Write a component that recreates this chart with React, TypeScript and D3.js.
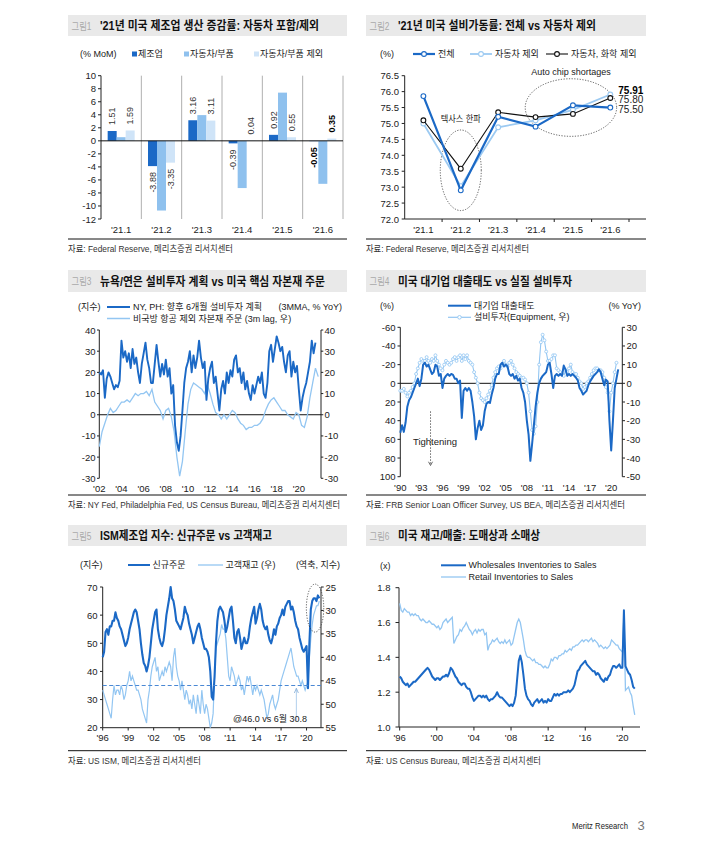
import React from 'react';
import * as d3 from 'd3';

const FONT = "'Liberation Sans', 'Noto Sans CJK KR', Arial, sans-serif";
const DARK = '#1b69c6';
const MID = '#8fc1ee';
const PALE = '#cfe4f8';
const LINE_LIGHT = '#93c6f2';

// ---------- Panel 1 ----------
const p1Categories = ["'21.1", "'21.2", "'21.3", "'21.4", "'21.5", "'21.6"];
const p1Mfg = [1.51, -3.88, 3.16, -0.39, 0.92, -0.05];
const p1Auto = [0.56, -10.7, 3.95, -7.25, 7.4, -6.6];
const p1ExAuto = [1.59, -3.35, 3.11, 0.04, 0.55, 0.35];
const p1Ticks = [10, 8, 6, 4, 2, 0, -2, -4, -6, -8, -10, -12];

// ---------- Panel 2 ----------
const p2Categories = ["'21.1", "'21.2", "'21.3", "'21.4", "'21.5", "'21.6"];
const p2Total = [75.86, 72.9, 75.21, 74.9, 75.57, 75.5];
const p2ExAuto = [75.0, 73.03, 74.88, 75.1, 75.43, 75.91];
const p2ExAutoChem = [75.1, 73.58, 75.35, 75.2, 75.3, 75.8];
const p2Ticks = [72.0, 72.5, 73.0, 73.5, 74.0, 74.5, 75.0, 75.5, 76.0, 76.5];

// ---------- Panel 3 (2002~, NY/PH bi-monthly; core capex quarterly) ----------
const p3NyPh = [
  20, 19, 21, 8, 17, 20,
  18, 15, 12, 14, 13, 16,
  35, 27, 30, 25, 29, 22,
  31, 24, 27, 20, 15, 24,
  29, 34, 26, 22, 15, 15,
  24, 33, 25, 18, 24, 19,
  26, 18, 22, 10, 14, -5,
  -13, -17, -10, 2, 15, 22,
  25, 30, 20, 28, 22, 27,
  35, 27, 22, 25, 7, 17,
  22, 25, 15, 18, 10, 2,
  12, 16, 10, 20, 15, 21,
  18, 26, 28, 20, 22, 15,
  20, 12, 16, 10, 7, 14,
  10, 14, 18, 15, 20, 10,
  8, 15, 30, 33, 25, 31,
  37, 34, 30, 32, 25, 20,
  28, 30, 18, 25, 20, 23,
  12, 2, 8, 12, 15, 20,
  25, 35, 29, 34,
];
const p3Capex = [
  -15, -8, -4, 0,
  3, 1, 2, 4,
  6, 6, 7, 6,
  8, 10, 9, 10,
  10, 11, 9, 12,
  6, 4, 2, -2,
  2, 3, -1, -8,
  -20, -29, -22, -8,
  5, 12, 15, 14,
  13, 12, 10, 14,
  10, 5, 1, 0,
  -2, 0, -2, 0,
  2, 1, -2, -4,
  -5, -7, -6, -6,
  -5, -5, -4, -2,
  2, 5, 7, 8,
  6, 4, 2, 2,
  0, -1, -2, 1,
  0, -5, -6, -1,
  8, 15, 22, 18,
];
const p3Ticks = [40, 30, 20, 10, 0, -10, -20, -30];
const p3Years = ["'02", "'04", "'06", "'08", "'10", "'12", "'14", "'16", "'18", "'20"];

// ---------- Panel 4 (1990~, quarterly) ----------
const p4Lending = [
  53, 45, 52, 42,
  25, 18, 15, 10,
  5, 0, -5, 3,
  -5, -20, -22, -18,
  -20, -15, -10, -12,
  -20, -18, -8, -10,
  5, -5, -8, -10,
  -8, -10, -9, -5,
  -5, 0, -3, 37,
  8, 5, 8, 5,
  8, 20, 35, 60,
  48, 40, 50, 45,
  30, 22, 20, 21,
  12, 5, -5, -10,
  -10, -20, -22, -18,
  -20, -18, -10, -8,
  -10, -5, -8, -3,
  -5, 5, 10, 20,
  40, 55, 83, 65,
  45, 25, 10, 0,
  -5, -8, -10, -12,
  -20, -22, -10, 5,
  -8, -10, -8, -10,
  -8, -19, -15, -8,
  -10, -8, -10, -8,
  -6, -3, 5, 8,
  12, 10, 8, 2,
  -2, -5, -8, -10,
  -12, -15, -12, -5,
  2, -4, -2, 40,
  72, 40, 5, -5,
  -15,
];
const p4Equip = [
  -4, -4, -3, -5,
  -7, -5, -4, -2,
  0, 5, 8, 11,
  13, 12, 12, 14,
  12, 11, 13, 12,
  15, 12, 10, 8,
  7, 10, 12, 11,
  10, 11, 13, 14,
  12, 14, 15, 12,
  15, 13, 15, 12,
  11, 10, 6, 3,
  0, -5, -8, -9,
  -10, -8, -6, -4,
  -1, 3, 6, 8,
  9, 8, 10, 12,
  10, 9, 11, 12,
  10, 8, 6, 5,
  4, 3, 3, 2,
  0, -5, -15, -25,
  -27, -23, -10, 10,
  22, 26, 23, 17,
  12, 12, 13, 15,
  15, 8, 7, 6,
  5, 4, 7, 6,
  8, 10, 6, 5,
  5, 3, 1, 0,
  -3, -2, 0, 1,
  3, 5, 7, 8,
  8, 7, 7, 6,
  3, -2, -5, -15,
  -5, 0, 6, 11,
];
const p4LeftTicks = [-60, -40, -20, 0, 20, 40, 60, 80, 100];
const p4RightTicks = [30, 20, 10, 0, -10, -20, -30, -40, -50];
const p4Years = ["'90", "'93", "'96", "'99", "'02", "'05", "'08", "'11", "'14", "'17", "'20"];

// ---------- Panel 5 (1996~, bi-monthly) ----------
const p5NewOrders = [
  45, 47, 54, 55, 53, 56,
  56, 58, 58, 61, 59, 58,
  56, 55, 53, 51, 49, 50,
  52, 55, 57, 59, 61, 62,
  61, 58, 55, 50, 46, 43,
  42, 40, 42, 45, 50, 55,
  58, 61, 62, 55, 52, 50,
  49, 51, 55, 60, 63, 66,
  70, 66, 65, 62, 58, 57,
  56, 55, 57, 59, 63, 61,
  60, 57, 55, 53, 50, 52,
  54, 56, 57, 55, 52, 50,
  48, 48, 47, 45, 40, 31,
  30, 38, 50, 58, 62, 63,
  62, 61, 58, 54, 56, 59,
  62, 63, 58, 52, 50, 54,
  55, 52, 48, 50, 52, 50,
  50, 52, 56, 59, 61, 63,
  57, 59, 62, 64, 62, 58,
  56, 55, 56, 53, 51, 50,
  52, 55, 53, 56, 57, 59,
  60, 62, 60, 63, 64, 65,
  65, 62, 63, 61, 58, 56,
  55, 52, 50, 48, 47, 48,
  49, 34, 50, 62, 65, 66,
  66, 65, 67, 66,
];
const p5CustInv = [
  47, 48, 49, 50, 51, 52,
  53, 49, 46, 48, 47, 47,
  48, 46, 47, 49, 48, 46,
  45, 43, 45, 44, 45, 46,
  47, 47, 48, 49, 51, 52,
  53, 54, 49, 47, 44, 42,
  41, 40, 43, 42, 45, 44,
  43, 44, 42, 43, 42, 41,
  42, 45, 40, 38, 42, 44,
  45, 47, 45, 47, 49, 47,
  48, 50, 49, 51, 48, 50,
  52, 48, 50, 52, 47, 50,
  52, 50, 51, 53, 55, 54,
  52, 44, 38, 37, 36, 35,
  33, 34, 34, 36, 40, 44,
  45, 42, 43, 44, 46, 45,
  44, 45, 47, 46, 48, 46,
  44, 45, 44, 46, 48, 46,
  47, 46, 47, 48, 47, 48,
  49, 51, 53, 52, 50, 49,
  48, 50, 51, 50, 49, 47,
  45, 44, 43, 42, 41, 40,
  39, 38, 40, 42, 43, 44,
  44, 45, 46, 45, 46, 47,
  46, 45, 40, 36, 33, 31,
  30, 29, 29, 28,
];
const p5LeftTicks = [70, 60, 50, 40, 30, 20];
const p5RightTicks = [25, 30, 35, 40, 45, 50, 55];
const p5Years = ["'96", "'99", "'02", "'05", "'08", "'11", "'14", "'17", "'20"];

// ---------- Panel 6 (1996~, bi-monthly) ----------
const p6Wholesale = [
  1.29, 1.28, 1.26, 1.25, 1.24, 1.25,
  1.23, 1.24, 1.25, 1.26, 1.26, 1.27,
  1.28, 1.29, 1.30, 1.31, 1.32, 1.33,
  1.34, 1.33, 1.31, 1.29, 1.28, 1.27,
  1.28, 1.28, 1.27, 1.28, 1.29, 1.29,
  1.30, 1.29, 1.31, 1.34, 1.33, 1.31,
  1.29, 1.28, 1.26, 1.25, 1.24, 1.25,
  1.25, 1.23, 1.22, 1.22, 1.20, 1.17,
  1.15, 1.16, 1.17, 1.18, 1.18, 1.17,
  1.18, 1.17, 1.18, 1.16, 1.15, 1.16,
  1.16, 1.17, 1.18, 1.20, 1.18, 1.17,
  1.17, 1.16, 1.15, 1.14, 1.13, 1.12,
  1.13, 1.12, 1.14, 1.18, 1.28, 1.38,
  1.41, 1.37, 1.30, 1.22, 1.18, 1.16,
  1.15, 1.13, 1.12, 1.14, 1.15, 1.16,
  1.14, 1.15, 1.16, 1.14, 1.15, 1.14,
  1.16, 1.15, 1.15, 1.17, 1.19, 1.18,
  1.19, 1.18, 1.19, 1.19, 1.20, 1.20,
  1.20, 1.21, 1.20, 1.21, 1.22, 1.24,
  1.28, 1.32, 1.33, 1.35, 1.36, 1.37,
  1.38, 1.36, 1.35, 1.34, 1.33, 1.32,
  1.32, 1.30, 1.31, 1.30, 1.28, 1.27,
  1.26, 1.28, 1.27, 1.29, 1.30, 1.33,
  1.35, 1.35, 1.34, 1.35, 1.36, 1.34,
  1.34, 1.67, 1.35, 1.33, 1.31, 1.30,
  1.27, 1.23, 1.22,
];
const p6Retail = [
  1.71, 1.67, 1.66, 1.68, 1.67, 1.66,
  1.66, 1.64, 1.65, 1.64, 1.65, 1.64,
  1.64, 1.62, 1.61, 1.62, 1.61, 1.60,
  1.60, 1.61, 1.60, 1.59, 1.59, 1.58,
  1.57, 1.58, 1.56, 1.57, 1.60, 1.61,
  1.62, 1.60, 1.61, 1.62, 1.63, 1.48,
  1.50, 1.52, 1.53, 1.56, 1.55, 1.57,
  1.58, 1.60, 1.58, 1.56, 1.55, 1.53,
  1.55, 1.56, 1.54, 1.56, 1.55, 1.56,
  1.56, 1.53, 1.54, 1.44, 1.47, 1.48,
  1.50, 1.49, 1.50, 1.51, 1.49, 1.48,
  1.49, 1.48, 1.50, 1.48, 1.49, 1.50,
  1.47, 1.48, 1.52, 1.56, 1.60, 1.62,
  1.60, 1.55, 1.50, 1.44, 1.41, 1.40,
  1.40, 1.39, 1.38, 1.39, 1.37, 1.37,
  1.36, 1.36, 1.35, 1.34, 1.35, 1.34,
  1.34, 1.36, 1.39, 1.38, 1.40, 1.40,
  1.39, 1.41, 1.41, 1.42, 1.42, 1.44,
  1.43, 1.44, 1.45, 1.44, 1.46, 1.46,
  1.47, 1.47, 1.48, 1.49, 1.50, 1.49,
  1.50, 1.50, 1.49, 1.50, 1.51, 1.49,
  1.50, 1.49, 1.48, 1.46, 1.47, 1.46,
  1.45, 1.46, 1.45, 1.46, 1.47, 1.50,
  1.49, 1.48, 1.47, 1.47, 1.45, 1.44,
  1.43, 1.64, 1.21, 1.22, 1.23, 1.20,
  1.18, 1.12, 1.07,
];
const p6Ticks = [1.8, 1.6, 1.4, 1.2, 1.0];
const p6Years = ["'96", "'00", "'04", "'08", "'12", "'16", "'20"];

const yearOf = (lbl: string) => {
  const n = +lbl.replace("'", '');
  return n >= 50 ? 1900 + n : 2000 + n;
};

function TitleBar({ x, y, w, h, num, title, tw }: any) {
  return (
    <g>
      <rect x={x} y={y} width={w} height={h} fill="#e9e9e9" />
      <text x={x + 3.5} y={y + h / 2 + 0.5} dominantBaseline="central" fontSize={10} fill="#a9a9a9" fontFamily={FONT} textLength={20} lengthAdjust="spacingAndGlyphs">{num}</text>
      <text x={x + 32} y={y + h / 2 + 0.5} dominantBaseline="central" fontSize={12} fontWeight="bold" fill="#111" fontFamily={FONT} textLength={tw} lengthAdjust="spacingAndGlyphs">{title}</text>
    </g>
  );
}

function Source({ x, y, w, text, tw }: any) {
  return (
    <g>
      <line x1={x} x2={x + w} y1={y} y2={y} stroke="#111" strokeWidth={1} />
      <text x={x} y={y + 10} dominantBaseline="central" fontSize={9.3} fill="#333" fontFamily={FONT} textLength={tw} lengthAdjust="spacingAndGlyphs">{text}</text>
    </g>
  );
}

function Panel1() {
  const x = d3.scaleBand().domain(p1Categories).range([101, 343]);
  const y = d3.scaleLinear().domain([-12, 10]).range([219, 75.7]);
  const inner = d3.scaleBand().domain(['a', 'b', 'c']).range([0, 27]);
  const series = [
    { key: 'a', vals: p1Mfg, color: DARK, label: true },
    { key: 'b', vals: p1Auto, color: MID, label: false },
    { key: 'c', vals: p1ExAuto, color: PALE, label: true },
  ];
  const off = (x.bandwidth() - 27) / 2;
  return (
    <g fontFamily={FONT}>
      <TitleBar x={68} y={15} w={279} h={21} num="그림1" title="'21년 미국 제조업 생산 증감률: 자동차 포함/제외" tw={219} />
      <text x={80} y={54} dominantBaseline="central" fontSize={9} fill="#222">(% MoM)</text>
      {[['제조업', DARK, 132], ['자동차/부품', MID, 184], ['자동차/부품 제외', PALE, 254]].map(([t, c, lx]: any) => (
        <g key={t}>
          <rect x={lx} y={51.5} width={5} height={5} fill={c} />
          <text x={lx + 6} y={54} dominantBaseline="central" fontSize={9} fill="#222">{t}</text>
        </g>
      ))}
      {p1Categories.map((c, i) => (
        <line key={c} x1={(x(c) as number) + x.bandwidth()} x2={(x(c) as number) + x.bandwidth()} y1={75.7} y2={219} stroke="#9a9a9a" strokeWidth={0.8} />
      ))}
      <line x1={101} x2={101} y1={75.7} y2={219} stroke="#222" strokeWidth={1} />
      {p1Ticks.map(t => (
        <g key={t}>
          <line x1={98} x2={101} y1={y(t)} y2={y(t)} stroke="#222" />
          <text x={96} y={y(t)} textAnchor="end" dominantBaseline="central" fontSize={9.5} fill="#222">{t}</text>
        </g>
      ))}
      {series.map(s => s.vals.map((v, i) => {
        const bx = (x(p1Categories[i]) as number) + off + (inner(s.key) as number);
        const bw = inner.bandwidth();
        return <rect key={s.key + i} x={bx} y={y(Math.max(0, v))} width={bw} height={Math.abs(y(v) - y(0))} fill={s.color} />;
      }))}
      {series.filter(s => s.label).map(s => s.vals.map((v, i) => {
        const cx = (x(p1Categories[i]) as number) + off + (inner(s.key) as number) + inner.bandwidth() / 2;
        const bold = i === 5;
        const ty = v >= 0 ? y(v) - 6 : y(v) + 6;
        return (
          <text key={'l' + s.key + i} transform={`translate(${cx},${ty}) rotate(-90)`} textAnchor={v >= 0 ? 'start' : 'end'} dominantBaseline="central" fontSize={9} fontWeight={bold ? 'bold' : 'normal'} fill={bold ? '#000' : '#333'}>{v.toFixed(2)}</text>
        );
      }))}
      <line x1={101} x2={343} y1={y(0)} y2={y(0)} stroke="#111" strokeWidth={1} />
      {p1Categories.map(c => (
        <text key={c} x={(x(c) as number) + x.bandwidth() / 2} y={229} textAnchor="middle" dominantBaseline="central" fontSize={9.5} fill="#222">{c}</text>
      ))}
      <Source x={68} y={239} w={279} text="자료: Federal Reserve, 메리츠증권 리서치센터" tw={165} />
    </g>
  );
}

function Panel2() {
  const x = d3.scaleBand().domain(p2Categories).range([404.7, 629]);
  const y = d3.scaleLinear().domain([72, 76.5]).range([219, 75.7]);
  const cx = (c: string) => (x(c) as number) + x.bandwidth() / 2;
  const line = d3.line<number>().x((d, i) => cx(p2Categories[i])).y(d => y(d));
  const series = [
    { vals: p2ExAuto, color: '#9ccaf2', w: 1.8, name: '자동차 제외', lx: 470 },
    { vals: p2ExAutoChem, color: '#111', w: 1.1, name: '자동차, 화학 제외', lx: 546 },
    { vals: p2Total, color: DARK, w: 2.2, name: '전체', lx: 413 },
  ];
  return (
    <g fontFamily={FONT}>
      <TitleBar x={366} y={15} w={280} h={21} num="그림2" title="'21년 미국 설비가동률: 전체 vs 자동차 제외" tw={198} />
      <text x={380} y={54} dominantBaseline="central" fontSize={9} fill="#222">(%)</text>
      {series.map(s => (
        <g key={s.name}>
          <line x1={s.lx} x2={s.lx + 22} y1={54} y2={54} stroke={s.color} strokeWidth={s.w} />
          <circle cx={s.lx + 11} cy={54} r={2.4} fill="#fff" stroke={s.color} strokeWidth={1.1} />
          <text x={s.lx + 25} y={54} dominantBaseline="central" fontSize={9} fill="#222">{s.name}</text>
        </g>
      ))}
      <line x1={404.7} x2={404.7} y1={75.7} y2={219} stroke="#222" />
      {p2Ticks.map(t => (
        <g key={t}>
          <line x1={401.7} x2={404.7} y1={y(t)} y2={y(t)} stroke="#222" />
          <text x={399} y={y(t)} textAnchor="end" dominantBaseline="central" fontSize={9.5} fill="#222">{t.toFixed(1)}</text>
        </g>
      ))}
      <line x1={404.7} x2={646} y1={219} y2={219} stroke="#222" />
      {p2Categories.map(c => (
        <g key={c}>
          <line x1={(x(c) as number) + x.bandwidth()} x2={(x(c) as number) + x.bandwidth()} y1={219} y2={222} stroke="#222" />
          <text x={cx(c)} y={229} textAnchor="middle" dominantBaseline="central" fontSize={9.5} fill="#222">{c}</text>
        </g>
      ))}
      <ellipse cx={cx("'21.2")} cy={y(73.53)} rx={20.5} ry={40.3} fill="none" stroke="#333" strokeWidth={0.8} strokeDasharray="1.2,1.5" />
      <ellipse cx={cx("'21.5") - 2} cy={y(75.5)} rx={45.7} ry={28.8} fill="none" stroke="#333" strokeWidth={0.8} strokeDasharray="1.2,1.5" />
      <text x={cx("'21.2")} y={y(75.13)} textAnchor="middle" dominantBaseline="central" fontSize={9} fill="#222" textLength={40} lengthAdjust="spacingAndGlyphs">텍사스 한파</text>
      <text x={cx("'21.5") - 2} y={72} textAnchor="middle" dominantBaseline="central" fontSize={9} fill="#222">Auto chip shortages</text>
      {series.map(s => (
        <g key={'s' + s.name}>
          <path d={line(s.vals) || ''} fill="none" stroke={s.color} strokeWidth={s.w} />
          {s.vals.map((v, i) => (
            <circle key={i} cx={cx(p2Categories[i])} cy={y(v)} r={2.4} fill="#fff" stroke={s.color} strokeWidth={1.1} />
          ))}
        </g>
      ))}
      <text x={cx("'21.6") + 8} y={y(76.05)} dominantBaseline="central" fontSize={10} fontWeight="bold" fill="#000">{p2ExAuto[5].toFixed(2)}</text>
      <text x={cx("'21.6") + 8} y={y(75.74)} dominantBaseline="central" fontSize={10} fill="#222">{p2ExAutoChem[5].toFixed(2)}</text>
      <text x={cx("'21.6") + 8} y={y(75.43)} dominantBaseline="central" fontSize={10} fill="#222">{p2Total[5].toFixed(2)}</text>
      <Source x={366} y={239} w={280} text="자료: Federal Reserve, 메리츠증권 리서치센터" tw={163} />
    </g>
  );
}

function Panel3() {
  const x = d3.scaleLinear().domain([2002, 2022]).range([99.3, 321]);
  const y = d3.scaleLinear().domain([-30, 40]).range([478.3, 330]);
  const l1 = d3.line<number>().x((d, i) => x(2002 + i / 6)).y(d => y(d));
  const l2 = d3.line<number>().x((d, i) => x(2002 + i / 4)).y(d => y(d));
  return (
    <g fontFamily={FONT}>
      <TitleBar x={68} y={270} w={279} h={22} num="그림3" title="뉴욕/연은 설비투자 계획 vs 미국 핵심 자본재 주문" tw={225} />
      <text x={78} y={307} dominantBaseline="central" fontSize={9} fill="#222">(지수)</text>
      <line x1={107} x2={130} y1={307} y2={307} stroke={DARK} strokeWidth={2} />
      <text x={133} y={307} dominantBaseline="central" fontSize={9} fill="#222">NY, PH: 향후 6개월 설비투자 계획</text>
      <text x={342} y={307} textAnchor="end" dominantBaseline="central" fontSize={9} fill="#222">(3MMA, % YoY)</text>
      <line x1={107} x2={130} y1={318.5} y2={318.5} stroke={LINE_LIGHT} strokeWidth={1.5} />
      <text x={133} y={318.5} dominantBaseline="central" fontSize={9} fill="#222">비국방 항공 제외 자본재 주문 (3m lag, 우)</text>
      <line x1={99.3} x2={99.3} y1={330} y2={478.3} stroke="#222" />
      <line x1={321} x2={321} y1={330} y2={478.3} stroke="#222" />
      {p3Ticks.map(t => (
        <g key={t}>
          <line x1={97} x2={99.3} y1={y(t)} y2={y(t)} stroke="#222" />
          <text x={95.5} y={y(t)} textAnchor="end" dominantBaseline="central" fontSize={9.5} fill="#222">{t}</text>
          <line x1={321} x2={323.3} y1={y(t)} y2={y(t)} stroke="#222" />
          <text x={324.5} y={y(t)} dominantBaseline="central" fontSize={9.5} fill="#222">{t}</text>
        </g>
      ))}
      <line x1={99.3} x2={321} y1={y(0)} y2={y(0)} stroke="#111" />
      <path d={l2(p3Capex) || ''} fill="none" stroke={LINE_LIGHT} strokeWidth={1.3} />
      <path d={l1(p3NyPh) || ''} fill="none" stroke={DARK} strokeWidth={1.9} strokeLinejoin="round" />
      {p3Years.map(l => (
        <text key={l} x={x(yearOf(l))} y={488} textAnchor="middle" dominantBaseline="central" fontSize={9.5} fill="#222">{l}</text>
      ))}
      <Source x={68} y={495} w={279} text="자료: NY Fed, Philadelphia Fed, US Census Bureau, 메리츠증권 리서치센터" tw={272} />
    </g>
  );
}

function Panel4() {
  const x = d3.scaleLinear().domain([1990, 2021.58]).range([400.3, 622.3]);
  const yL = d3.scaleLinear().domain([-60, 100]).range([327.3, 476.7]);
  const yR = d3.scaleLinear().domain([30, -50]).range([327.3, 476.7]);
  const l1 = d3.line<number>().x((d, i) => x(1990 + i / 4)).y(d => yL(d));
  const l2 = d3.line<number>().x((d, i) => x(1990 + i / 4)).y(d => yR(d));
  return (
    <g fontFamily={FONT}>
      <TitleBar x={366} y={270} w={280} h={22} num="그림4" title="미국 대기업 대출태도 vs 실질 설비투자" tw={174} />
      <text x={380} y={305.5} dominantBaseline="central" fontSize={9} fill="#222">(%)</text>
      <text x={641} y={305.5} textAnchor="end" dominantBaseline="central" fontSize={9} fill="#222">(% YoY)</text>
      <line x1={448} x2={471} y1={305.7} y2={305.7} stroke={DARK} strokeWidth={2} />
      <text x={474} y={305.7} dominantBaseline="central" fontSize={9} fill="#222">대기업 대출태도</text>
      <line x1={448} x2={471} y1={317.3} y2={317.3} stroke={LINE_LIGHT} strokeWidth={1.2} />
      <circle cx={459.5} cy={317.3} r={1.8} fill="#fff" stroke={LINE_LIGHT} strokeWidth={0.9} />
      <text x={474} y={317.3} dominantBaseline="central" fontSize={9} fill="#222">설비투자(Equipment, 우)</text>
      <line x1={400.3} x2={400.3} y1={327.3} y2={476.7} stroke="#222" />
      <line x1={622.3} x2={622.3} y1={327.3} y2={476.7} stroke="#222" />
      {p4LeftTicks.map(t => (
        <g key={'l' + t}>
          <line x1={397.5} x2={400.3} y1={yL(t)} y2={yL(t)} stroke="#222" />
          <text x={395.5} y={yL(t)} textAnchor="end" dominantBaseline="central" fontSize={9.5} fill="#222">{t}</text>
        </g>
      ))}
      {p4RightTicks.map(t => (
        <g key={'r' + t}>
          <line x1={622.3} x2={625} y1={yR(t)} y2={yR(t)} stroke="#222" />
          <text x={626.5} y={yR(t)} dominantBaseline="central" fontSize={9.5} fill="#222">{t}</text>
        </g>
      ))}
      <line x1={400.3} x2={622.3} y1={yL(0)} y2={yL(0)} stroke="#111" />
      <path d={l2(p4Equip) || ''} fill="none" stroke={LINE_LIGHT} strokeWidth={1.1} />
      {p4Equip.map((v, i) => (
        <circle key={i} cx={x(1990 + i / 4)} cy={yR(v)} r={1.5} fill="#fff" stroke={LINE_LIGHT} strokeWidth={0.8} />
      ))}
      <path d={l1(p4Lending) || ''} fill="none" stroke={DARK} strokeWidth={2} strokeLinejoin="round" />
      <text x={x(1991.8)} y={yL(62)} dominantBaseline="central" fontSize={9.5} fill="#222">Tightening</text>
      <line x1={x(1994.3)} x2={x(1994.3)} y1={yL(30)} y2={yL(86)} stroke="#444" strokeWidth={0.8} strokeDasharray="1.5,1.5" />
      <path d={`M${x(1994.3) - 2},${yL(84)} L${x(1994.3)},${yL(88)} L${x(1994.3) + 2},${yL(84)}`} fill="none" stroke="#444" strokeWidth={0.8} />
      {p4Years.map(l => (
        <text key={l} x={x(yearOf(l))} y={487.5} textAnchor="middle" dominantBaseline="central" fontSize={9.5} fill="#222">{l}</text>
      ))}
      <Source x={366} y={495} w={280} text="자료: FRB Senior Loan Officer Survey, US BEA, 메리츠증권 리서치센터" tw={259} />
    </g>
  );
}

function Panel5() {
  const x = d3.scaleLinear().domain([1996, 2021.7]).range([102.7, 321]);
  const yL = d3.scaleLinear().domain([20, 70]).range([727.7, 587]);
  const yR = d3.scaleLinear().domain([25, 55]).range([587, 727.7]);
  const l1 = d3.line<number>().x((d, i) => x(1996 + i / 6)).y(d => yL(d));
  const l2 = d3.line<number>().x((d, i) => x(1996 + i / 6)).y(d => yR(d));
  return (
    <g fontFamily={FONT}>
      <TitleBar x={68} y={525} w={279} h={21} num="그림5" title="ISM제조업 지수: 신규주문 vs 고객재고" tw={172} />
      <text x={80} y={565} dominantBaseline="central" fontSize={9} fill="#222">(지수)</text>
      <line x1={128} x2={150} y1={565} y2={565} stroke={DARK} strokeWidth={2} />
      <text x={152.5} y={565} dominantBaseline="central" fontSize={9} fill="#222">신규주문</text>
      <line x1={198} x2={223} y1={565} y2={565} stroke={LINE_LIGHT} strokeWidth={1.3} />
      <text x={225.5} y={565} dominantBaseline="central" fontSize={9} fill="#222">고객재고 (우)</text>
      <text x={340} y={565} textAnchor="end" dominantBaseline="central" fontSize={9} fill="#222">(역축, 지수)</text>
      <line x1={102.7} x2={102.7} y1={587} y2={727.7} stroke="#222" />
      <line x1={321} x2={321} y1={587} y2={727.7} stroke="#222" />
      <line x1={102.7} x2={321} y1={727.7} y2={727.7} stroke="#222" />
      {p5LeftTicks.map(t => (
        <g key={'l' + t}>
          <line x1={100} x2={102.7} y1={yL(t)} y2={yL(t)} stroke="#222" />
          <text x={97.5} y={yL(t)} textAnchor="end" dominantBaseline="central" fontSize={9.5} fill="#222">{t}</text>
        </g>
      ))}
      {p5RightTicks.map(t => (
        <g key={'r' + t}>
          <line x1={321} x2={323.7} y1={yR(t)} y2={yR(t)} stroke="#222" />
          <text x={325.5} y={yR(t)} dominantBaseline="central" fontSize={9.5} fill="#222">{t}</text>
        </g>
      ))}
      <path d={l2(p5CustInv) || ''} fill="none" stroke={LINE_LIGHT} strokeWidth={1.2} />
      <path d={l1(p5NewOrders) || ''} fill="none" stroke={DARK} strokeWidth={2.1} strokeLinejoin="round" />
      <line x1={102.7} x2={321} y1={yR(46)} y2={yR(46)} stroke="#4a88d4" strokeWidth={1.2} strokeDasharray="4,2.5" />
      <line x1={x(2018.8)} x2={x(2018.8)} y1={yR(53.6)} y2={yR(46.6)} stroke="#a8c9ea" strokeWidth={0.9} />
      <path d={`M${x(2018.8) - 2},${yR(47.6)} L${x(2018.8)},${yR(46.6)} L${x(2018.8) + 2},${yR(47.6)}`} fill="none" stroke="#7fa9d6" strokeWidth={0.8} />
      <text x={307} y={yR(53.2)} textAnchor="end" dominantBaseline="central" fontSize={9} fill="#222">@46.0 vs 6월 30.8</text>
      <ellipse cx={x(2021.0)} cy={yL(62.5)} rx={8.7} ry={24} fill="none" stroke="#333" strokeWidth={0.8} strokeDasharray="1.2,1.5" />
      {p5Years.map(l => (
        <g key={l}>
          <line x1={x(yearOf(l))} x2={x(yearOf(l))} y1={727.7} y2={730.5} stroke="#222" />
          <text x={x(yearOf(l))} y={737} textAnchor="middle" dominantBaseline="central" fontSize={9.5} fill="#222">{l}</text>
        </g>
      ))}
      <Source x={68} y={750.7} w={279} text="자료: US ISM, 메리츠증권 리서치센터" tw={133} />
    </g>
  );
}

function Panel6() {
  const x = d3.scaleLinear().domain([1996, 2021.9]).range([399.7, 640]);
  const y = d3.scaleLinear().domain([1.0, 1.8]).range([727, 587.7]);
  const line = d3.line<number>().x((d, i) => x(1996 + i / 6)).y(d => y(d));
  return (
    <g fontFamily={FONT}>
      <TitleBar x={366} y={525} w={280} h={21} num="그림6" title="미국 재고/매출: 도매상과 소매상" tw={142} />
      <text x={380} y={566} dominantBaseline="central" fontSize={9} fill="#222">(x)</text>
      <line x1={441} x2={466} y1={565.3} y2={565.3} stroke={DARK} strokeWidth={2} />
      <text x={468.5} y={565.3} dominantBaseline="central" fontSize={9} fill="#222">Wholesales Inventories to Sales</text>
      <line x1={441} x2={466} y1={577} y2={577} stroke={LINE_LIGHT} strokeWidth={1.3} />
      <text x={468.5} y={577} dominantBaseline="central" fontSize={9} fill="#222">Retail Inventories to Sales</text>
      <line x1={399} x2={399} y1={587.7} y2={727} stroke="#222" />
      <line x1={399} x2={640} y1={727} y2={727} stroke="#222" />
      {p6Ticks.map(t => (
        <g key={t}>
          <line x1={395.5} x2={399} y1={y(t)} y2={y(t)} stroke="#222" />
          <text x={390.5} y={y(t)} textAnchor="end" dominantBaseline="central" fontSize={9.5} fill="#222">{t.toFixed(1)}</text>
        </g>
      ))}
      <path d={line(p6Retail) || ''} fill="none" stroke={LINE_LIGHT} strokeWidth={1.3} />
      <path d={line(p6Wholesale) || ''} fill="none" stroke={DARK} strokeWidth={2} strokeLinejoin="round" />
      {p6Years.map(l => (
        <g key={l}>
          <line x1={x(yearOf(l))} x2={x(yearOf(l))} y1={727} y2={730.5} stroke="#222" />
          <text x={x(yearOf(l))} y={737} textAnchor="middle" dominantBaseline="central" fontSize={9.5} fill="#222">{l}</text>
        </g>
      ))}
      <Source x={366} y={750.7} w={280} text="자료: US Census Bureau, 메리츠증권 리서치센터" tw={175} />
    </g>
  );
}

export default function App() {
  return (
    <svg width={714} height={841} style={{ position: 'absolute', left: 0, top: 0, background: '#fff' }}>
      <rect x={0} y={0} width={714} height={841} fill="#fff" />
      <Panel1 />
      <Panel2 />
      <Panel3 />
      <Panel4 />
      <Panel5 />
      <Panel6 />
      <text x={572} y={826} dominantBaseline="central" fontSize={9} fill="#222" fontFamily={FONT} textLength={56} lengthAdjust="spacingAndGlyphs">Meritz Research</text>
      <text x={637.5} y={825} dominantBaseline="central" fontSize={13} fill="#777" fontFamily={FONT}>3</text>
    </svg>
  );
}
